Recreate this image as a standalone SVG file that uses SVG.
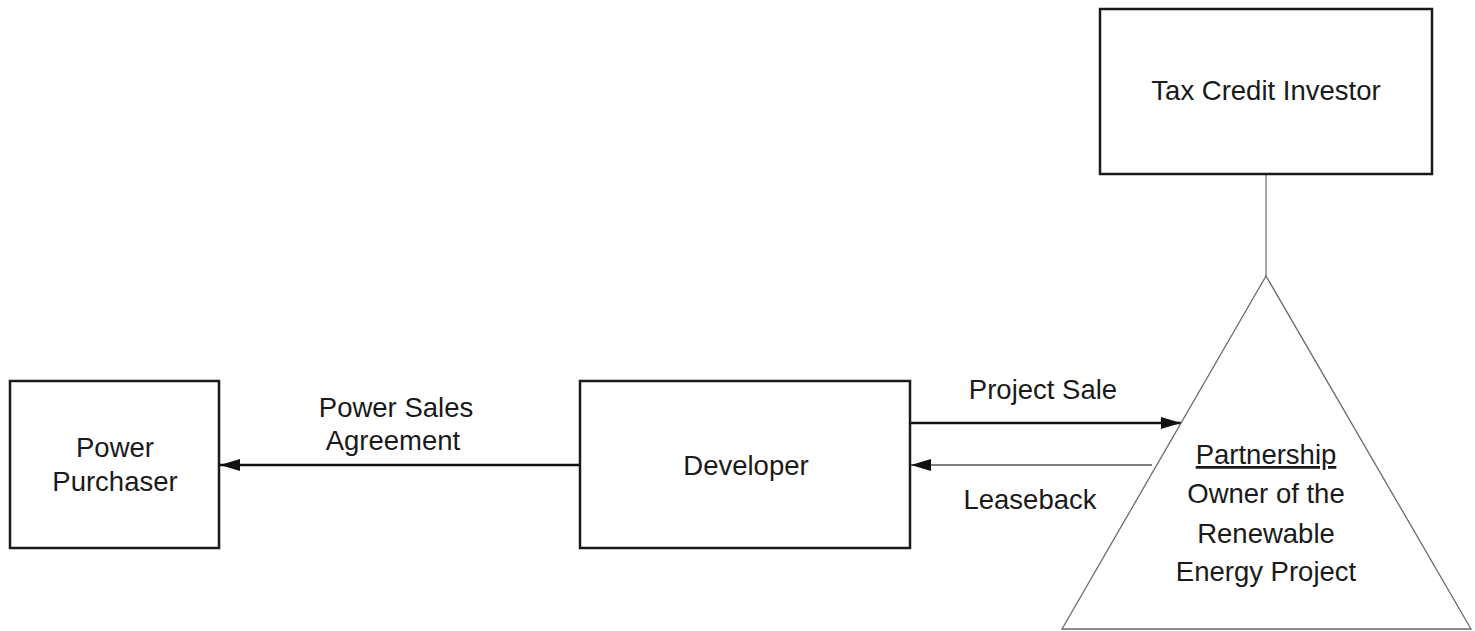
<svg xmlns="http://www.w3.org/2000/svg" width="1475" height="631" viewBox="0 0 1475 631">
  <style>
    .box { fill: #fff; stroke: #1a1a1a; stroke-width: 2.5; }
    .tri { fill: #fff; stroke: #6a6a6a; stroke-width: 1.3; }
    .lbl { font-family: "Liberation Sans", Arial, sans-serif; font-size: 27.5px; fill: #1a1a1a; text-anchor: middle; }
    .bold-link { stroke: #111; stroke-width: 2.6; fill: none; }
    .thin-link { stroke: #555; stroke-width: 1.6; fill: none; }
    .tie { stroke: #777; stroke-width: 1.3; fill: none; }
  </style>
  <defs>
    <marker id="head" viewBox="0 0 20 12" refX="20" refY="6" markerWidth="20" markerHeight="12" markerUnits="userSpaceOnUse" orient="auto">
      <path d="M0,0 L20,6 L0,12 Z" fill="#111"/>
    </marker>
  </defs>
  <rect width="1475" height="631" fill="#fff"/>

  <g id="connectors">
    <line class="tie" x1="1266" y1="174" x2="1266" y2="276"/>
    <line class="bold-link" x1="580" y1="465" x2="220" y2="465" marker-end="url(#head)"/>
    <line class="bold-link" x1="911" y1="423" x2="1181" y2="423" marker-end="url(#head)"/>
    <line class="thin-link" x1="1152" y1="465" x2="911" y2="465" marker-end="url(#head)"/>
    <text class="lbl" x="396" y="417">Power Sales</text>
    <text class="lbl" x="393" y="450">Agreement</text>
    <text class="lbl" x="1043" y="399">Project Sale</text>
    <text class="lbl" x="1030" y="509">Leaseback</text>
  </g>

  <g id="tax-credit-investor">
    <rect class="box" x="1100" y="9" width="332" height="165"/>
    <text class="lbl" x="1266" y="100">Tax Credit Investor</text>
  </g>

  <g id="partnership">
    <polygon class="tri" points="1266,276 1062,629 1471,629"/>
    <text class="lbl" x="1266" y="464" text-decoration="underline">Partnership</text>
    <text class="lbl" x="1266" y="503">Owner of the</text>
    <text class="lbl" x="1266" y="543">Renewable</text>
    <text class="lbl" x="1266" y="581">Energy Project</text>
  </g>

  <g id="power-purchaser">
    <rect class="box" x="10" y="381" width="209" height="167"/>
    <text class="lbl" x="115" y="457">Power</text>
    <text class="lbl" x="115" y="491">Purchaser</text>
  </g>

  <g id="developer">
    <rect class="box" x="580" y="381" width="330" height="167"/>
    <text class="lbl" x="746" y="475">Developer</text>
  </g>
</svg>
